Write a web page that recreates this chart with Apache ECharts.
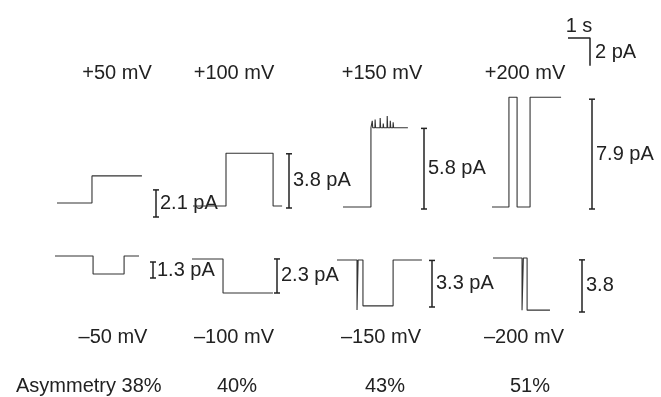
<!DOCTYPE html>
<html>
<head>
<meta charset="utf-8">
<script src="https://cdn.jsdelivr.net/npm/echarts@6/dist/echarts.min.js"></script>
<style>
html, body { margin: 0; background: #fff; }
#chart { width: 661px; height: 397px; }
</style>
</head>
<body>
<div id="chart"></div>
<script>
// single channel traces: time in s from trace start, current in pA relative to closed level
const p50T = [0, 1.59, 1.59, 3.86];
const p50I = [0, 0, 1.95, 1.95];
const p100T = [0, 1.5, 1.5, 3.64, 3.64, 4.05];
const p100I = [0, 0, 3.8, 3.8, 0, 0];
const p150T = [0, 1.27, 1.27, 1.32, 1.33, 1.35, 1.45, 1.46, 1.48, 1.68, 1.69, 1.71, 1.82, 1.83, 1.85, 2.0, 2.01, 2.03, 2.14, 2.15, 2.17, 2.27, 2.28, 2.3, 2.95];
const p150I = [0, 0, 5.7, 5.7, 6.2, 5.7, 5.7, 6.3, 5.7, 5.7, 6.4, 5.7, 5.7, 6.0, 5.7, 5.7, 6.55, 5.7, 5.7, 6.2, 5.7, 5.7, 6.1, 5.7, 5.7];
const p200T = [0, 0.77, 0.77, 1.14, 1.14, 1.73, 1.73, 3.14];
const p200I = [0, 0, 7.9, 7.9, 0, 0, 7.9, 7.9];
const m50T = [0, 1.73, 1.73, 3.14, 3.14, 3.82];
const m50I = [0, 0, -1.3, -1.3, 0, 0];
const m100T = [0, 1.41, 1.41, 3.68];
const m100I = [0, 0, -2.45, -2.45];
const m150T = [0, 0.91, 0.91, 0.96, 0.96, 1.18, 1.18, 2.55, 2.55, 3.86];
const m150I = [0, 0, -3.6, -3.6, 0, 0, -3.3, -3.3, 0, 0];
const m200T = [0, 1.32, 1.32, 1.38, 1.38, 1.55, 1.55, 2.59];
const m200I = [0, 0, -3.75, -3.75, 0, 0, -3.75, -3.75];

// amplitude scale bars (pA) and their labels
const barAmps = [1.95, 3.9, 5.8, 7.9, 1.15, 2.45, 3.35, 3.75];
const barLabels = ['2.1 pA', '3.8 pA', '5.8 pA', '7.9 pA', '1.3 pA', '2.3 pA', '3.3 pA', '3.8'];

const posLabels = ['+50 mV', '+100 mV', '+150 mV', '+200 mV'];
const negLabels = ['–50 mV', '–100 mV', '–150 mV', '–200 mV'];
const asymLabels = ['Asymmetry 38%', '40%', '43%', '51%'];

// calibration: 1 s, 2 pA
const calT = 1;
const calI = 2;

// layout (pixels)
const W = 661, H = 397;
const SX = 22;    // px per s
const SY = 13.9;  // px per pA
const toT = x => x / SX;
const toI = y => (H - y) / SY;

const traceT = [p50T, p100T, p150T, p200T, m50T, m100T, m150T, m200T];
const traceI = [p50I, p100I, p150I, p200I, m50I, m100I, m150I, m200I];
const traceOrigin = [[57, 203], [193, 206], [343, 207], [492, 207], [55, 256], [192, 259], [337, 260], [493, 258]];
const barPos = [[156, 217], [289, 208], [424, 209], [592, 209], [153, 278], [277, 293], [432, 307], [582, 312]];
const posX = [117, 234, 382, 525];
const negX = [113, 234, 381, 524];
const asymX = [null, 237, 385, 530];

const FONT = 'Liberation Sans, Arial, sans-serif';
const INK = '#222';

const seriesList = [];
for (let k = 0; k < traceT.length; k++) {
    const [x0, y0] = traceOrigin[k];
    seriesList.push({
        type: 'line',
        symbol: 'none',
        silent: true,
        lineStyle: { color: '#333', width: 1.1 },
        data: traceT[k].map((t, i) => [toT(x0) + t, toI(y0) + traceI[k][i]])
    });
}

// amplitude bars with end caps
seriesList.push({
    type: 'custom',
    silent: true,
    data: barAmps.map((a, k) => [toT(barPos[k][0]), toI(barPos[k][1]), a, k]),
    renderItem: (params, api) => {
        const b = api.coord([api.value(0), api.value(1)]);
        const t = api.coord([api.value(0), api.value(1) + api.value(2)]);
        const k = api.value(3);
        const st = { stroke: INK, lineWidth: 1.5 };
        return {
            type: 'group',
            children: [
                { type: 'line', shape: { x1: b[0], y1: b[1], x2: t[0], y2: t[1] }, style: st },
                { type: 'line', shape: { x1: b[0] - 3, y1: b[1], x2: b[0] + 3, y2: b[1] }, style: st },
                { type: 'line', shape: { x1: t[0] - 3, y1: t[1], x2: t[0] + 3, y2: t[1] }, style: st },
                {
                    type: 'text',
                    style: {
                        x: b[0] + 4, y: (b[1] + t[1]) / 2, text: barLabels[k],
                        fill: INK, font: '20px ' + FONT, textVerticalAlign: 'middle'
                    }
                }
            ]
        };
    }
});

// calibration bar
seriesList.push({
    type: 'line',
    symbol: 'none',
    silent: true,
    lineStyle: { color: INK, width: 1.5 },
    data: [[toT(568), toI(38)], [toT(568) + calT, toI(38)], [toT(568) + calT, toI(38) - calI]]
});

const graphics = [];
const txt = (x, y, s, align) => ({
    type: 'text', x: x, y: y,
    style: { text: s, fill: INK, font: '20px ' + FONT, textAlign: align || 'center', textVerticalAlign: 'middle' }
});
posLabels.forEach((s, i) => graphics.push(txt(posX[i], 73, s)));
negLabels.forEach((s, i) => graphics.push(txt(negX[i], 337, s)));
asymLabels.forEach((s, i) => graphics.push(i === 0 ? txt(16, 386, s, 'left') : txt(asymX[i], 386, s)));
graphics.push(txt(579, 26, calT + ' s'));
graphics.push(txt(595, 52, calI + ' pA', 'left'));

const chart = echarts.init(document.getElementById('chart'));
chart.setOption({
    animation: false,
    grid: { left: 0, right: 0, top: 0, bottom: 0 },
    xAxis: { type: 'value', min: 0, max: W / SX, show: false },
    yAxis: { type: 'value', min: 0, max: H / SY, show: false },
    graphic: graphics,
    series: seriesList
});
</script>
</body>
</html>
